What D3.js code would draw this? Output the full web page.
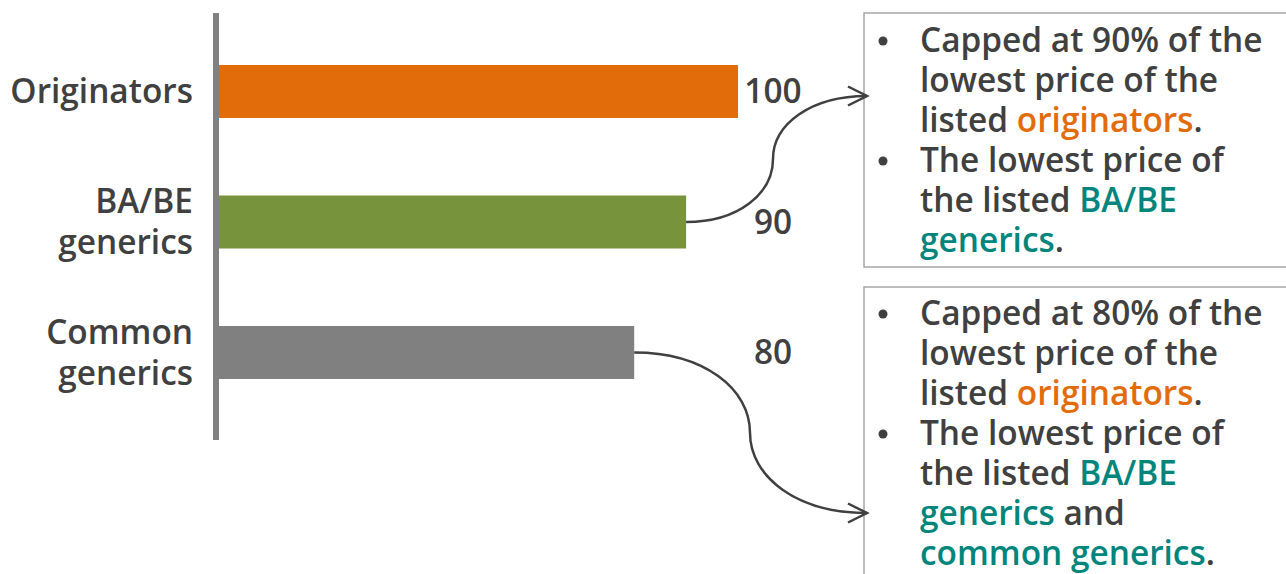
<!DOCTYPE html>
<html>
<head>
<meta charset="utf-8">
<script src="https://cdn.jsdelivr.net/npm/d3@7"></script>
<style>
  html, body { margin: 0; padding: 0; background: #fff; }
  svg { display: block; }
  text { font-family: "Open Sans", "Noto Sans", sans-serif; fill: #404040; }
</style>
</head>
<body>
<svg id="chart" width="1286" height="574"></svg>
<script>
// Price ceiling tiers (index relative to originators = 100)
const categories = ["Originators", "BA/BE generics", "Common generics"];
const categoryLines = [["Originators"], ["BA/BE", "generics"], ["Common", "generics"]];
const values = [100, 90, 80];
const barColors = ["#E36C0A", "#77933C", "#808080"];

// Annotation boxes: each line is a list of [text, colour-role] runs
const noteLines90 = [
  { bullet: true,  runs: [["Capped at 90% of the", "t"]] },
  { bullet: false, runs: [["lowest price of the", "t"]] },
  { bullet: false, runs: [["listed ", "t"], ["originators", "o"], [".", "t"]] },
  { bullet: true,  runs: [["The lowest price of", "t"]] },
  { bullet: false, runs: [["the listed ", "t"], ["BA/BE", "g"]] },
  { bullet: false, runs: [["generics", "g"], [".", "t"]] }
];
const noteLines80 = [
  { bullet: true,  runs: [["Capped at 80% of the", "t"]] },
  { bullet: false, runs: [["lowest price of the", "t"]] },
  { bullet: false, runs: [["listed ", "t"], ["originators", "o"], [".", "t"]] },
  { bullet: true,  runs: [["The lowest price of", "t"]] },
  { bullet: false, runs: [["the listed ", "t"], ["BA/BE", "g"]] },
  { bullet: false, runs: [["generics", "g"], [" and", "t"]] },
  { bullet: false, runs: [["common generics", "g"], [".", "t"]] }
];
const runColors = { t: "#404040", o: "#E36C0A", g: "#00857D" };

const svg = d3.select("#chart");

const x = d3.scaleLinear().domain([0, 100]).range([219, 738]);
const y = d3.scaleBand().domain(categories).range([65, 379]).paddingInner(0.594).paddingOuter(0);
const bw = y.bandwidth();

// bars
svg.selectAll("rect.bar").data(values).join("rect")
  .attr("class", "bar")
  .attr("x", x(0))
  .attr("y", (d, i) => y(categories[i]))
  .attr("width", d => x(d) - x(0))
  .attr("height", bw)
  .attr("fill", (d, i) => barColors[i]);

// category axis line
svg.append("line")
  .attr("x1", 216).attr("x2", 216)
  .attr("y1", 13).attr("y2", 440)
  .attr("stroke", "#808080").attr("stroke-width", 6);

// category labels
const fs = 33.4;
const lineH = 40;
categories.forEach((c, i) => {
  const lines = categoryLines[i];
  const cy = y(c) + bw / 2;
  const t = svg.append("text")
    .attr("text-anchor", "end")
    .attr("font-size", fs)
    .attr("font-weight", 600);
  lines.forEach((ln, k) => {
    t.append("tspan")
      .attr("x", 193)
      .attr("y", cy + (k - (lines.length - 1) / 2) * 41)
      .attr("dy", "0.35em")
      .text(ln);
  });
});

// value labels
svg.selectAll("text.val").data(values).join("text")
  .attr("class", "val")
  .attr("x", x(100) + 35)
  .attr("y", (d, i) => y(categories[i]) + bw / 2)
  .attr("dy", "0.35em")
  .attr("text-anchor", "middle")
  .attr("font-size", fs)
  .attr("font-weight", 600)
  .text(d => d);

// annotation boxes
const boxX = 864;
function drawBox(top, height, lines, firstBaseline) {
  svg.append("rect")
    .attr("x", boxX).attr("y", top)
    .attr("width", 1286 - boxX + 10).attr("height", height)
    .attr("fill", "none").attr("stroke", "#A6A6A6").attr("stroke-width", 1.5);
  lines.forEach((ln, k) => {
    const by = firstBaseline + k * lineH;
    if (ln.bullet) {
      svg.append("circle").attr("cx", 883).attr("cy", by - 11).attr("r", 4.5).attr("fill", "#404040");
    }
    const t = svg.append("text").attr("x", 920).attr("y", by)
      .attr("font-size", fs).attr("font-weight", 600);
    ln.runs.forEach(r => t.append("tspan").style("fill", runColors[r[1]]).text(r[0]));
  });
}
drawBox(13, 254, noteLines90, 52);
drawBox(287, 320, noteLines80, 325);

// connector arrows from bar ends to the notes
const arrowColor = "#404040";
function connector(x0, y0, x1, y1, xm) {
  const ym = (y0 + y1) / 2;
  const p = d3.path();
  p.moveTo(x0, y0);
  p.bezierCurveTo(x0 + (xm - x0) * 0.6, y0, xm, y0 + (ym - y0) * 0.45, xm, ym);
  p.bezierCurveTo(xm, y1 - (y1 - ym) * 0.45, xm + (x1 - xm) * 0.4, y1, x1, y1);
  svg.append("path").attr("d", p.toString())
    .attr("fill", "none").attr("stroke", arrowColor).attr("stroke-width", 2.5);
  svg.append("path")
    .attr("d", `M${x1 - 19},${y1 - 9.5}L${x1},${y1}L${x1 - 19},${y1 + 9.5}`)
    .attr("fill", "none").attr("stroke", arrowColor).attr("stroke-width", 2.5)
    .attr("stroke-linejoin", "miter");
}
connector(x(values[1]), y(categories[1]) + bw / 2, 867, 96, 773);
connector(x(values[2]), y(categories[2]) + bw / 2, 867, 513, 750);
</script>
</body>
</html>
